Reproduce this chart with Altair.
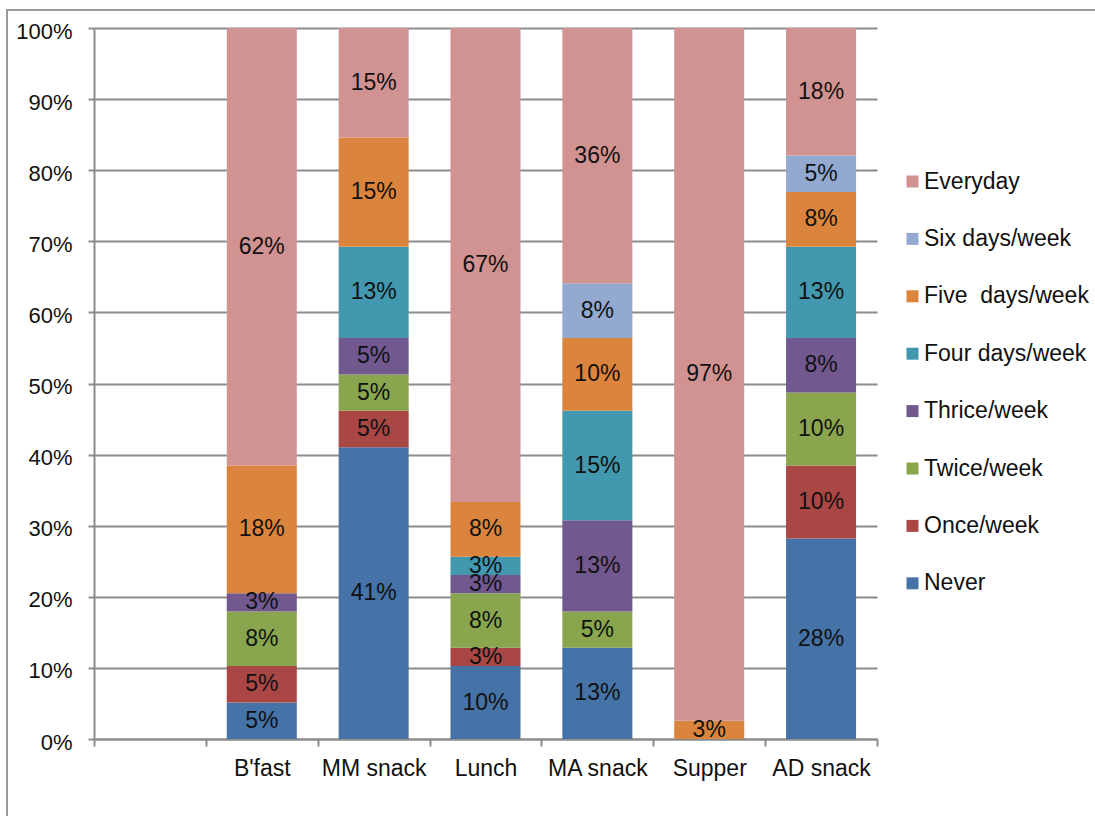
import altair as alt
import pandas as pd

# Meal occasions (first slot on the axis is left empty)
meals = ["B'fast", "MM snack", "Lunch", "MA snack", "Supper", "AD snack"]
axis_slots = [" "] + meals

# Frequency classes, bottom of the stack first
frequencies = [
    "Never",
    "Once/week",
    "Twice/week",
    "Thrice/week",
    "Four days/week",
    "Five\u00a0 days/week",
    "Six days/week",
    "Everyday",
]

# Number of respondents (out of 39) per meal, in the order of `meals`
never = [2, 16, 4, 5, 0, 11]
once = [2, 2, 1, 0, 0, 4]
twice = [3, 2, 3, 2, 0, 4]
thrice = [1, 2, 1, 5, 0, 3]
four_days = [0, 5, 1, 6, 0, 5]
five_days = [7, 6, 3, 4, 1, 3]
six_days = [0, 0, 0, 3, 0, 2]
everyday = [24, 6, 26, 14, 38, 7]

colors = [
    "#4572A7",  # Never
    "#AA4643",  # Once/week
    "#89A54E",  # Twice/week
    "#71588F",  # Thrice/week
    "#4198AF",  # Four days/week
    "#DB843D",  # Five days/week
    "#93A9CF",  # Six days/week
    "#D19392",  # Everyday
]

series = [never, once, twice, thrice, four_days, five_days, six_days, everyday]
rows = []
for k, (freq, counts) in enumerate(zip(frequencies, series)):
    for meal, n in zip(meals, counts):
        if n > 0:
            rows.append({"meal": meal, "freq": freq, "rank": k, "count": n})
df = pd.DataFrame(rows)

FONT = "Liberation Sans"
GRID = "#8C8C8C"
INK = "#111111"

base = (
    alt.Chart(df)
    .transform_joinaggregate(total="sum(count)", groupby=["meal"])
    .transform_calculate(pct="datum.count / datum.total")
    .transform_stack(
        stack="pct", groupby=["meal"], sort=[alt.SortField("rank")], as_=["y0", "y1"]
    )
    .transform_calculate(mid="(datum.y0 + datum.y1) / 2")
)

x_enc = alt.X(
    "meal:N",
    scale=alt.Scale(domain=axis_slots, paddingInner=0, paddingOuter=0),
    axis=alt.Axis(
        title=None,
        labelAngle=0,
        labelFontSize=23,
        labelFont=FONT,
        labelColor=INK,
        labelPadding=11,
        tickBand="extent",
        tickSize=7,
        tickWidth=2,
        tickColor=GRID,
        domainColor=GRID,
        domainWidth=2,
        grid=False,
    ),
)

legend_domain = list(reversed(frequencies))
legend_range = list(reversed(colors))

bars = base.mark_bar(width=alt.RelativeBandSize(0.626)).encode(
    x=x_enc,
    y=alt.Y(
        "y0:Q",
        scale=alt.Scale(domain=[0, 1], nice=False),
        axis=alt.Axis(
            title=None,
            format=".0%",
            values=[i / 10 for i in range(11)],
            labelFontSize=22,
            labelFont=FONT,
            labelColor=INK,
            labelPadding=16,
            labelOffset=3,
            tickSize=6,
            tickWidth=2,
            tickColor=GRID,
            domainColor=GRID,
            domainWidth=2,
            grid=True,
            gridColor=GRID,
            gridWidth=2,
        ),
    ),
    y2="y1:Q",
    color=alt.Color(
        "freq:N",
        scale=alt.Scale(domain=legend_domain, range=legend_range),
        legend=alt.Legend(
            title=None,
            orient="none",
            legendX=807,
            legendY=142,
            symbolType="square",
            symbolSize=144,
            symbolStrokeWidth=0,
            symbolOpacity=1,
            labelFontSize=23,
            labelFont=FONT,
            labelColor=INK,
            labelOffset=0,
            labelLimit=300,
            rowPadding=33.4,
        ),
    ),
)

labels = base.mark_text(
    fontSize=23, font=FONT, color=INK, baseline="middle"
).encode(
    x=alt.X("meal:N"),
    y=alt.Y("mid:Q"),
    text=alt.Text("pct:Q", format=".0%"),
)

frame = alt.Chart(pd.DataFrame({"k": [0]})).mark_rect(
    filled=False, stroke="#9A9A9A", strokeWidth=2
).encode(
    x=alt.value(-87),
    x2=alt.value(1020),
    y=alt.value(-18),
    y2=alt.value(820),
)

chart = (
    alt.layer(bars, labels, frame)
    .properties(
        width=783,
        height=711,
        autosize=alt.AutoSizeParams(type="none"),
        padding={"left": 94, "top": 28, "right": 218, "bottom": 77},
        background="white",
    )
    .configure_view(stroke=None)
)

chart.save("out.html", embed_options={"renderer": "svg", "actions": False})
